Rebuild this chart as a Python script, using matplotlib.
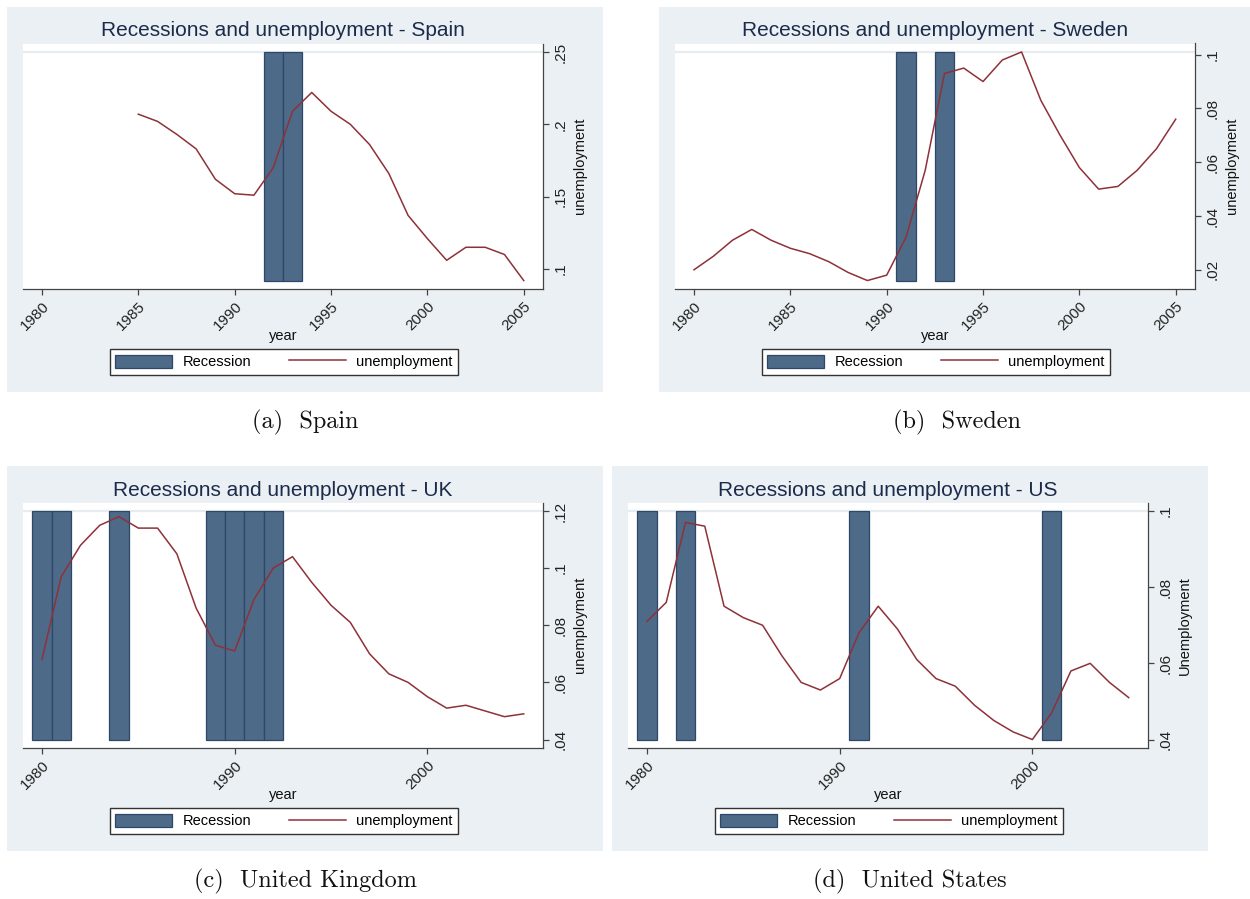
import matplotlib
matplotlib.use("Agg")
from matplotlib import pyplot as plt
from matplotlib.patches import Patch, Rectangle
from matplotlib.lines import Line2D

plt.rcParams["font.family"] = ["Liberation Sans", "DejaVu Sans"]

# ------------------------------------------------------------------
# Data
# ------------------------------------------------------------------
YEARS = [1980, 1981, 1982, 1983, 1984, 1985, 1986, 1987, 1988, 1989,
         1990, 1991, 1992, 1993, 1994, 1995, 1996, 1997, 1998, 1999,
         2000, 2001, 2002, 2003, 2004, 2005]
SPAIN_YEARS = YEARS[5:]

spain_unemp = [0.207, 0.202, 0.193, 0.183, 0.162, 0.152, 0.151, 0.170, 0.209,
               0.222, 0.209, 0.200, 0.186, 0.166, 0.137, 0.121, 0.106, 0.115,
               0.115, 0.110, 0.092]
sweden_unemp = [0.020, 0.025, 0.031, 0.035, 0.031, 0.028, 0.026, 0.023, 0.019,
                0.016, 0.018, 0.032, 0.057, 0.093, 0.095, 0.090, 0.098, 0.101,
                0.083, 0.070, 0.058, 0.050, 0.051, 0.057, 0.065, 0.076]
uk_unemp = [0.068, 0.097, 0.108, 0.115, 0.118, 0.114, 0.114, 0.105, 0.086,
            0.073, 0.071, 0.089, 0.100, 0.104, 0.095, 0.087, 0.081, 0.070,
            0.063, 0.060, 0.055, 0.051, 0.052, 0.050, 0.048, 0.049]
us_unemp = [0.071, 0.076, 0.097, 0.096, 0.075, 0.072, 0.070, 0.062, 0.055,
            0.053, 0.056, 0.068, 0.075, 0.069, 0.061, 0.056, 0.054, 0.049,
            0.045, 0.042, 0.040, 0.047, 0.058, 0.060, 0.055, 0.051]

spain_recessions = [1992, 1993]
sweden_recessions = [1991, 1993]
uk_recessions = [1980, 1981, 1984, 1989, 1990, 1991, 1992]
us_recessions = [1980, 1982, 1991, 2001]

spain_yticks = [0.10, 0.15, 0.20, 0.25]
sweden_yticks = [0.02, 0.04, 0.06, 0.08, 0.10]
uk_yticks = [0.04, 0.06, 0.08, 0.10, 0.12]
us_yticks = [0.04, 0.06, 0.08, 0.10]

xticks_5 = [1980, 1985, 1990, 1995, 2000, 2005]
xticks_10 = [1980, 1990, 2000]

# ------------------------------------------------------------------
# Style
# ------------------------------------------------------------------
W, H = 1250, 899
BG = "#eaf0f3"
BAR_FACE = "#4e6a89"
BAR_EDGE = "#2c4767"
LINE_COLOR = "#8e3139"
TITLE_COLOR = "#1c2b4b"
AXIS_COLOR = "#444444"

PANEL_W, PANEL_H = 596, 385
PLOT_X0, PLOT_X1 = 15.7, 536.0
PLOT_Y0, PLOT_Y1 = 36.5, 282.0


def fx(x):
    return x / W


def fy(y):
    return 1 - y / H


def stata_fmt(v):
    return f"{v:g}".lstrip("0")


def draw_panel(fig, ox, oy, country, years, unemp, recessions, yticks, xticks,
               ylabel, caption, panel_w=PANEL_W):
    # grey graph region
    fig.add_artist(Rectangle((fx(ox), fy(oy + PANEL_H)), panel_w / W, PANEL_H / H,
                             transform=fig.transFigure, facecolor=BG,
                             edgecolor="none", zorder=0))

    ax = fig.add_axes([fx(ox + PLOT_X0), fy(oy + PLOT_Y1),
                       (PLOT_X1 - PLOT_X0) / W, (PLOT_Y1 - PLOT_Y0) / H])
    ax.set_facecolor("white")

    lo = min(min(unemp), min(yticks))
    hi = max(max(unemp), max(yticks))
    pad = 0.037 * (hi - lo)

    ax.axhline(hi, color="#e6ecef", lw=1.6, zorder=1)
    ax.bar(recessions, [hi - lo] * len(recessions), bottom=lo, width=1.0,
           color=BAR_FACE, edgecolor=BAR_EDGE, linewidth=0.9, zorder=2)
    ax.plot(years, unemp, color=LINE_COLOR, lw=1.1, zorder=3)

    ax.set_xlim(1979, 2006)
    ax.set_ylim(lo - pad, hi + pad)

    for side in ("left", "top"):
        ax.spines[side].set_visible(False)
    for side in ("bottom", "right"):
        ax.spines[side].set_color(AXIS_COLOR)
        ax.spines[side].set_linewidth(0.9)

    ax.set_xticks(xticks)
    ax.set_xticklabels([str(x) for x in xticks], rotation=45, ha="right",
                       va="top", rotation_mode="anchor", fontsize=11,
                       color="#222222")
    ax.yaxis.tick_right()
    ax.set_yticks(yticks)
    ax.set_yticklabels([stata_fmt(v) for v in yticks], rotation=90,
                       va="center", ha="left", fontsize=11, color="#222222")
    ax.tick_params(axis="both", direction="out", length=4, width=0.9,
                   color=AXIS_COLOR)
    ax.tick_params(axis="x", pad=3)
    ax.tick_params(axis="y", pad=4)

    ax.set_xlabel("year", fontsize=10.5, color="#111111")
    ax.xaxis.set_label_coords(0.5, -(329 - PLOT_Y1) / (PLOT_Y1 - PLOT_Y0))
    ax.xaxis.label.set_va("center")
    ax.yaxis.set_label_position("right")
    ax.set_ylabel(ylabel, fontsize=10.5, color="#111111", rotation=90)
    ax.yaxis.set_label_coords((573 - PLOT_X0) / (PLOT_X1 - PLOT_X0), 0.5)
    ax.yaxis.label.set_va("center")
    ax.yaxis.label.set_ha("center")

    cx = ox + (PLOT_X0 + PLOT_X1) / 2
    fig.text(fx(cx), fy(oy + 24), f"Recessions and unemployment - {country}",
             ha="center", va="center", fontsize=15, color=TITLE_COLOR)

    handles = [Patch(facecolor=BAR_FACE, edgecolor=BAR_EDGE, linewidth=0.9),
               Line2D([], [], color=LINE_COLOR, lw=1.1)]
    leg = ax.legend(handles, ["Recession", "unemployment"], ncol=2,
                    loc="center", bbox_to_anchor=(fx(ox + 277), fy(oy + 355)),
                    bbox_transform=fig.transFigure, frameon=True,
                    fancybox=False, edgecolor="#333333", framealpha=1,
                    fontsize=10.5, handlelength=3.9, handleheight=1.0,
                    handletextpad=0.7, columnspacing=2.6, borderpad=0.4)
    leg.get_frame().set_linewidth(1.0)

    fig.text(fx(ox + PANEL_W / 2), fy(oy + PANEL_H + 30), caption,
             ha="center", va="center", fontsize=17.5, family="cmr10",
             color="#111111")
    return ax


fig = plt.figure(figsize=(W / 100, H / 100), dpi=100)
fig.patch.set_facecolor("white")

draw_panel(fig, 7, 7, "Spain", SPAIN_YEARS, spain_unemp, spain_recessions,
           spain_yticks, xticks_5, "unemployment", "(a)  Spain")
draw_panel(fig, 659, 7, "Sweden", YEARS, sweden_unemp, sweden_recessions,
           sweden_yticks, xticks_5, "unemployment", "(b)  Sweden",
           panel_w=W - 659)
draw_panel(fig, 7, 466, "UK", YEARS, uk_unemp, uk_recessions,
           uk_yticks, xticks_10, "unemployment", "(c)  United Kingdom")
draw_panel(fig, 612, 466, "US", YEARS, us_unemp, us_recessions,
           us_yticks, xticks_10, "Unemployment", "(d)  United States")

fig.savefig("out.png", dpi=100)
